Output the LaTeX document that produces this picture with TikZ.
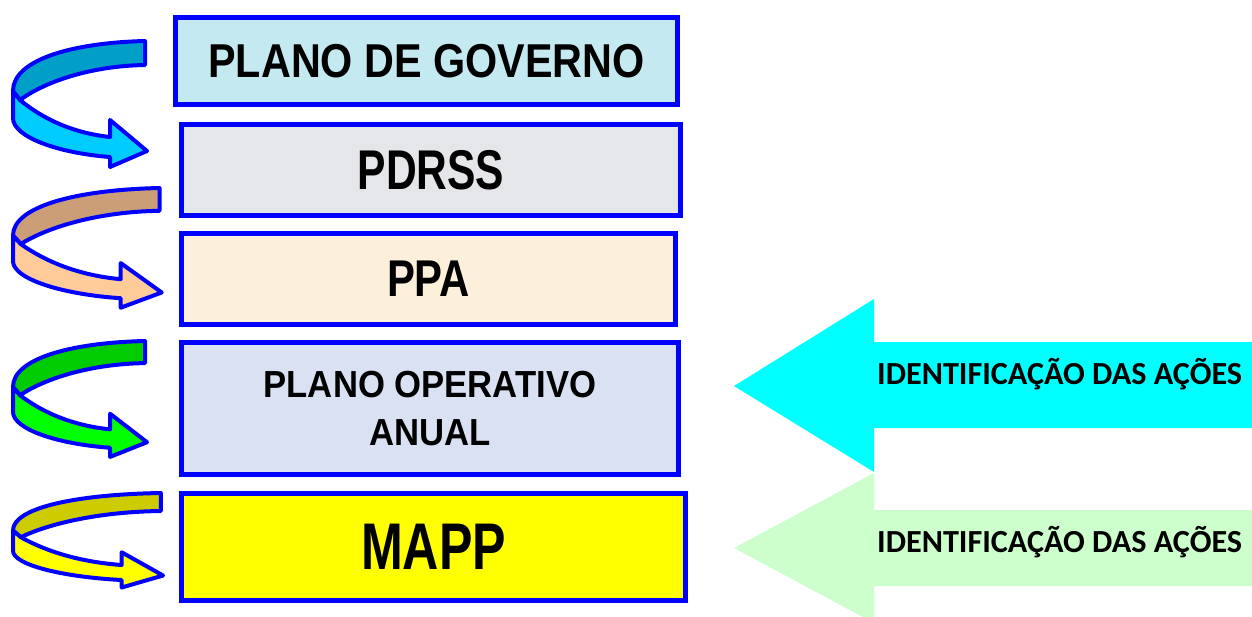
\documentclass[tikz,border=0pt]{standalone}
\usepackage{fontspec}
\usepackage{tikz}
\newfontfamily\boxfont{Liberation Sans}
\newfontfamily\tagfont{Carlito}
\newcommand{\bxfont}[3]{\boxfont\bfseries\addfontfeatures{FakeStretch=#1}\fontsize{#2}{#3}\selectfont}
\definecolor{edgec}{HTML}{0000FF}
\definecolor{govc}{HTML}{C4E9F0}
\definecolor{pdrc}{HTML}{E5E6E9}
\definecolor{ppac}{HTML}{FDF0DA}
\definecolor{poac}{HTML}{DAE1F3}
\definecolor{mapc}{HTML}{FFFF00}
\definecolor{cyanc}{HTML}{00FFFF}
\definecolor{mintc}{HTML}{CCFFCC}
\definecolor{bluedk}{HTML}{009FC8}
\definecolor{bluelt}{HTML}{00CCFF}
\definecolor{tandk}{HTML}{CC9E78}
\definecolor{tanlt}{HTML}{FFCC99}
\definecolor{grndk}{HTML}{00CC00}
\definecolor{grnlt}{HTML}{00FF00}
\definecolor{yeldk}{HTML}{CCCC00}
\definecolor{yellt}{HTML}{FFFF00}
\tikzset{
  box/.style={draw=edgec,line width=5pt,fill=#1,inner sep=0pt,align=center},
  tag/.style={anchor=base west,inner sep=0pt,font=\tagfont\bfseries\fontsize{32.2}{32}\selectfont},
  turnline/.style={draw=edgec,line width=4pt,line join=round},
  pics/turnarrow/.style 2 args={code={
    \filldraw[turnline,fill=#1] (132,0) .. controls (55,2) and (0,20) .. (0,50) -- (7,59)
      .. controls (30,42) and (75,25) .. (132,24) -- cycle;
    \filldraw[turnline,fill=#2] (7,59) .. controls (30,78) and (60,92) .. (97,96) -- (97,79)
      -- (134,110) -- (97,126) -- (97,116) .. controls (45,112) and (0,96) .. (0,77) -- (0,50) -- cycle;
  }}
}

\begin{document}
\begin{tikzpicture}[x=1pt,y=-1pt]
\useasboundingbox (0,0) rectangle (1252,616);
\node[box=govc,minimum width=502pt,minimum height=87pt,font=\bxfont{0.87}{47.5}{50}] (gov) at (426.5,61) {PLANO DE GOVERNO};
\node[box=pdrc,minimum width=499pt,minimum height=91pt,font=\bxfont{0.76}{56}{58}] (pdr) at (431,170) {PDRSS};
\node[box=ppac,minimum width=494pt,minimum height=91pt,font=\bxfont{0.81}{51.7}{54}] (ppa) at (428.5,279) {PPA};
\node[box=poac,minimum width=497pt,minimum height=132pt,font=\bxfont{0.92}{37.7}{48}] (poa) at (430,408.5) {PLANO OPERATIVO\\ANUAL};
\node[box=mapc,minimum width=504pt,minimum height=107pt,font=\bxfont{0.76}{66}{68}] (map) at (433.5,547) {MAPP};

\pic at (13,41) {turnarrow={bluedk}{bluelt}};
\pic[xscale=1.11,yscale=0.95] at (13,188) {turnarrow={tandk}{tanlt}};
\pic[xscale=1.0,yscale=0.92] at (13,341) {turnarrow={grndk}{grnlt}};
\pic[xscale=1.12,yscale=0.75] at (13,493) {turnarrow={yeldk}{yellt}};

\fill[cyanc] (1252,342) -- (874,342) -- (874,299) -- (734,386) -- (874,472) -- (874,428) -- (1252,428) -- cycle;
\fill[mintc] (1252,510) -- (874,510) -- (874,473) -- (734,548) -- (874,623) -- (874,586) -- (1252,586) -- cycle;
\node[tag] (idpoa) at (877,384) {IDENTIFICAÇÃO DAS AÇÕES};
\node[tag] (idmap) at (877,552) {IDENTIFICAÇÃO DAS AÇÕES};
\end{tikzpicture}
\end{document}
